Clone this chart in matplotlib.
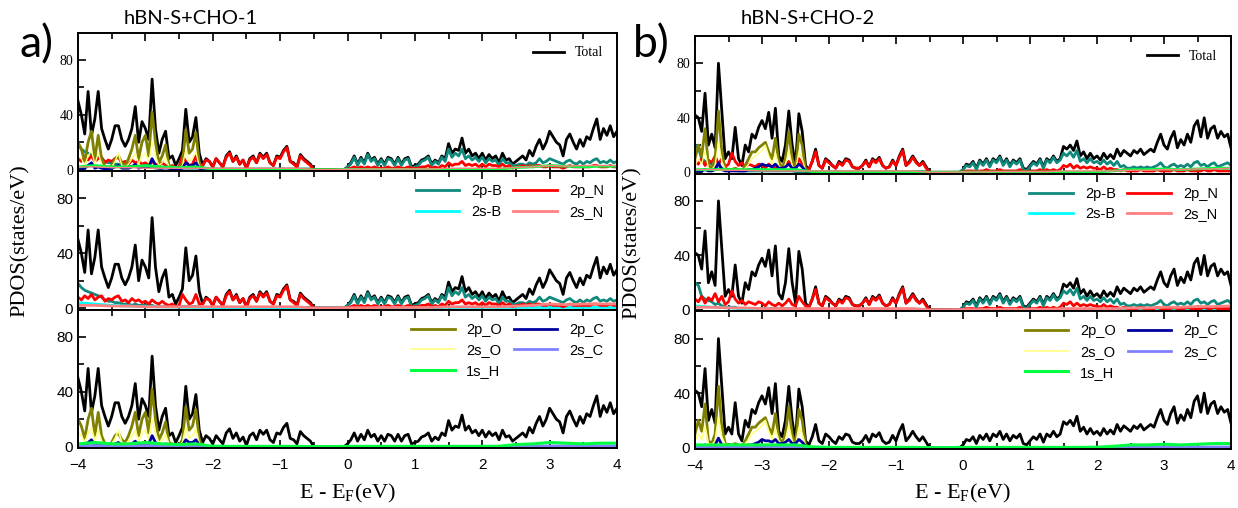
import numpy as np
import matplotlib
matplotlib.use("Agg")
import matplotlib.pyplot as plt
from matplotlib.ticker import MultipleLocator, FixedLocator

# --- energy grids (eV) ---
E_FINE = np.round(np.arange(-4.0, 4.0001, 0.05), 2)      # 161 points
E_O = np.round(np.arange(-4.0, -1.9999, 0.05), 2)        # 41 points, O/C states
E_COARSE = np.round(np.arange(-4.0, 4.0001, 0.25), 2)    # 33 points, weak states

# ---------------- panel a: hBN-S+CHO-1 ----------------
total_a = [50, 40, 26, 57, 25, 37, 57, 30, 22, 15,
           22, 32, 32, 22, 17, 22, 30, 46, 20, 35,
           30, 22, 66, 30, 12, 22, 28, 8, 10, 3,
           8, 14, 44, 20, 24, 38, 12, 3, 8, 6,
           2, 8, 5, 2, 10, 13, 6, 10, 4, 7,
           1, 8, 10, 5, 12, 9, 12, 5, 3, 10,
           9, 14, 17, 6, 5, 2, 11, 8, 6, 4,
           0, 0, 0, 0, 0, 0, 0, 0, 0, 0,
           2, 5, 10, 4, 9, 5, 12, 7, 9, 4,
           8, 4, 9, 8, 4, 9, 4, 8, 9, 2,
           3, 4, 7, 8, 10, 4, 7, 5, 10, 8,
           19, 12, 15, 14, 23, 12, 15, 10, 12, 8,
           12, 7, 11, 8, 10, 5, 12, 7, 8, 4,
           6, 8, 10, 7, 14, 10, 17, 22, 15, 20,
           28, 24, 20, 18, 10, 22, 26, 20, 15, 22,
           17, 24, 22, 30, 37, 22, 30, 25, 32, 24,
           28]

p2B_a = [18, 15, 13, 12, 11, 10, 9, 8, 6, 5,
         5, 4, 4, 3, 3, 3, 2, 3, 2, 2,
         2, 2, 2, 1, 1, 1, 1, 1, 1, 1,
         1, 1, 1, 1, 1, 1, 1, 0.5, 0.5, 0.5,
         0.5, 0.5, 0.5, 0.5, 0.5, 0.5, 0.5, 0.5, 0.5, 0.5,
         0.5, 0.5, 0.5, 0.5, 0.5, 0.5, 0.5, 0.5, 0.5, 0.5,
         0.5, 0.5, 0.5, 0.5, 0.5, 0.5, 0.5, 0.5, 0.5, 0.5,
         0, 0, 0, 0, 0, 0, 0, 0, 0, 0,
         2, 4, 9, 3, 8, 4, 11, 6, 8, 3,
         7, 3, 8, 7, 3, 8, 3, 7, 8, 1,
         2, 3, 6, 7, 9, 3, 6, 4, 9, 6,
         15, 9, 12, 10, 15, 8, 10, 7, 9, 6,
         9, 5, 8, 6, 7, 3, 8, 5, 5, 3,
         3, 4, 4, 3, 5, 4, 5, 8, 5, 6,
         8, 7, 6, 5, 4, 6, 7, 5, 4, 6,
         4, 6, 5, 7, 8, 5, 6, 5, 7, 5,
         6]

p2N_a = [8, 6, 9, 7, 10, 6, 8, 9, 5, 7,
         6, 8, 9, 5, 6, 4, 7, 5, 6, 4,
         5, 3, 6, 4, 3, 5, 3, 2, 3, 1,
         2, 10, 6, 3, 4, 10, 3, 3, 7, 6,
         2, 8, 5, 2, 9, 12, 6, 9, 4, 7,
         1, 7, 9, 5, 11, 8, 11, 5, 3, 9,
         8, 13, 16, 6, 4, 2, 10, 7, 5, 3,
         0, 0, 0, 0, 0, 0, 0, 0, 0, 0,
         0.5, 1, 2, 1, 2, 1, 2, 1, 2, 1,
         1, 1, 2, 1, 1, 2, 1, 1, 2, 1,
         1, 1, 2, 2, 3, 1, 2, 1, 3, 2,
         5, 3, 4, 4, 6, 3, 4, 3, 4, 2,
         4, 2, 4, 3, 3, 2, 4, 2, 3, 1,
         2, 2, 3, 2, 3, 2, 3, 3, 2, 2,
         3, 2, 2, 2, 1, 2, 3, 2, 2, 2,
         2, 2, 2, 3, 3, 2, 2, 2, 3, 2,
         2]

s2B_a = [4, 3, 2, 1.5, 1, 1, 0.8, 0.5, 0.3, 0.3, 0.3, 0.3, 0.3, 0.3, 0, 0,
         0.3, 0.3, 0.3, 0.3, 0.3, 0.3, 0.5, 0.5, 0.5, 0.5, 0.5, 0.5, 0.5, 0.5,
         0.5, 0.5, 0.5]
s2N_a = [2, 2, 1.5, 1.5, 1, 1, 1, 1, 1, 1, 1, 1, 1, 1, 0, 0,
         0.3, 0.3, 0.5, 0.5, 0.5, 0.5, 1, 1, 1, 1, 1.5, 2, 3, 2.5,
         3, 3, 3]

p2O_a = [20, 15, 6, 20, 28, 8, 25, 8, 2, 1,
         3, 8, 10, 5, 3, 8, 15, 25, 8, 20,
         25, 10, 42, 20, 5, 10, 18, 3, 2, 1,
         1, 5, 29, 12, 15, 27, 5, 0.5, 0, 0,
         0]
s2O_a = [10, 8, 3, 10, 14, 4, 12, 4, 1, 0.5,
         2, 6, 12, 3, 2, 4, 8, 12, 4, 10,
         12, 5, 20, 10, 3, 5, 9, 2, 1, 0.5,
         0.5, 3, 14, 6, 8, 13, 2, 0.3, 0, 0,
         0]
p2C_a = [1, 1, 1, 3, 5, 1, 2, 1, 0.5, 0.5,
         1, 2, 3, 1, 1, 1, 2, 4, 1, 2,
         3, 2, 8, 3, 1, 1, 2, 1, 0.5, 0.5,
         0.5, 1, 5, 3, 3, 5, 1, 0.3, 0, 0,
         0]
s2C_a = [0.8, 0.8, 0.6, 0.6, 0.8, 0.6, 0.5, 0.6, 0.2, 0.2, 0.2, 0.2, 0.2, 0.2, 0, 0,
         0.2, 0.2, 0.2, 0.2, 0.2, 0.2, 0.2, 0.2, 0.2, 0.2, 0.3, 0.3, 0.5, 0.5,
         0.5, 0.5, 0.5]
s1H_a = [2, 3, 2, 2, 3, 2, 1.5, 2, 0.3, 0.2, 0.2, 0.2, 0.2, 0.2, 0, 0,
         0.2, 0.2, 0.2, 0.2, 0.2, 0.2, 0.2, 0.2, 0.2, 0.3, 1.5, 2, 3, 2.5,
         2, 2.5, 2.5]

# ---------------- panel b: hBN-S+CHO-2 ----------------
total_b = [42, 40, 30, 58, 20, 28, 18, 80, 45, 10,
           15, 10, 33, 10, 5, 20, 15, 28, 25, 33,
           38, 32, 44, 25, 47, 12, 8, 20, 45, 20,
           5, 43, 30, 5, 2, 8, 17, 5, 3, 10,
           8, 5, 3, 8, 6, 10, 9, 4, 3, 3,
           5, 9, 4, 10, 8, 11, 5, 3, 4, 9,
           5, 12, 17, 5, 8, 12, 8, 5, 8, 4,
           0, 0, 0, 0, 0, 0, 0, 0, 0, 0,
           2, 6, 5, 8, 3, 9, 6, 10, 5, 10,
           8, 12, 6, 10, 5, 9, 7, 10, 3, 2,
           5, 8, 6, 10, 4, 10, 8, 12, 8, 10,
           19, 17, 20, 16, 23, 12, 15, 10, 14, 10,
           12, 9, 14, 10, 13, 10, 17, 12, 16, 14,
           12, 16, 14, 17, 13, 15, 17, 15, 22, 28,
           20, 17, 25, 30, 18, 24, 20, 28, 22, 34,
           38, 26, 40, 25, 32, 34, 25, 30, 26, 28,
           18]

p2B_b = [20, 18, 10, 8, 7, 6, 4, 5, 3, 2,
         2, 2, 2, 1, 1, 1, 1, 1, 1, 1,
         1, 1, 1, 1, 1, 1, 1, 1, 1, 1,
         0.5, 0.5, 0.5, 0.5, 0.5, 0.5, 0.5, 0.5, 0.5, 0.5,
         0.5, 0.5, 0.5, 0.5, 0.5, 0.5, 0.5, 0.5, 0.5, 0.5,
         0.5, 0.5, 0.5, 0.5, 0.5, 0.5, 0.5, 0.5, 0.5, 0.5,
         0.5, 0.5, 0.5, 0.5, 0.5, 0.5, 0.5, 0.5, 0.5, 0.5,
         0, 0, 0, 0, 0, 0, 0, 0, 0, 0,
         2, 5, 4, 7, 2, 8, 5, 9, 4, 9,
         7, 11, 5, 9, 4, 8, 6, 9, 2, 1,
         4, 7, 5, 9, 3, 9, 7, 11, 7, 9,
         14, 12, 15, 11, 16, 8, 10, 7, 10, 7,
         8, 6, 9, 6, 8, 5, 8, 4, 5, 3,
         3, 4, 3, 4, 3, 4, 3, 4, 5, 7,
         4, 3, 5, 6, 4, 5, 4, 6, 4, 7,
         8, 5, 6, 4, 6, 7, 4, 5, 6, 7,
         5]

p2N_b = [8, 6, 10, 5, 9, 7, 12, 6, 10, 4,
         6, 14, 8, 5, 7, 4, 6, 5, 4, 6,
         5, 3, 6, 4, 3, 5, 3, 5, 8, 4,
         3, 10, 6, 3, 2, 8, 15, 5, 3, 9,
         7, 5, 3, 7, 5, 9, 8, 4, 3, 3,
         5, 8, 4, 9, 7, 10, 5, 3, 4, 8,
         5, 11, 16, 5, 7, 11, 7, 5, 7, 3,
         0, 0, 0, 0, 0, 0, 0, 0, 0, 0,
         0.5, 1, 1, 1, 0.5, 1, 1, 2, 1, 1,
         1, 2, 1, 1, 1, 1, 1, 2, 0.5, 0.5,
         1, 1, 1, 2, 1, 2, 1, 2, 1, 2,
         5, 4, 6, 3, 5, 3, 4, 3, 4, 3,
         3, 2, 4, 2, 3, 2, 2, 1, 2, 1,
         1, 1, 1, 2, 1, 1, 1, 1, 2, 1,
         1, 1, 1, 2, 1, 1, 1, 2, 1, 1,
         1, 1, 2, 1, 1, 2, 1, 1, 1, 1,
         1]

s2B_b = [3, 2, 1.5, 1, 0.8, 0.8, 0.5, 0.5, 0.3, 0.3, 0.3, 0.3, 0.3, 0.3, 0, 0,
         0.3, 0.3, 0.3, 0.3, 0.3, 0.3, 0.5, 0.5, 0.5, 0.5, 0.5, 0.5, 0.5, 0.5,
         0.5, 0.5, 0.5]
s2N_b = [2, 2, 1.5, 1.5, 1, 1, 1, 1, 1, 1, 1, 1, 1, 1, 0, 0,
         0.3, 0.3, 0.5, 0.5, 0.5, 0.5, 1, 1, 1, 1, 1.5, 1.5, 2, 2,
         2.5, 2.5, 3]

p2O_b = [10, 20, 12, 32, 5, 3, 10, 45, 15, 3,
         2, 2, 3, 2, 1, 5, 10, 15, 15, 18,
         20, 22, 15, 10, 25, 8, 3, 10, 30, 10,
         2, 28, 20, 2, 0.5, 0, 0, 0, 0, 0,
         0]
s2O_b = [5, 10, 6, 16, 3, 2, 5, 22, 8, 2,
         1, 1, 2, 1, 0.5, 3, 6, 10, 12, 14,
         16, 20, 12, 6, 14, 5, 2, 6, 16, 5,
         1, 15, 10, 1, 0.3, 0, 0, 0, 0, 0,
         0]
p2C_b = [1, 1, 1, 2, 1, 1, 2, 7, 2, 1,
         1, 1, 1, 1, 1, 1, 2, 2, 3, 4,
         6, 5, 5, 4, 6, 3, 3, 4, 6, 3,
         3, 6, 4, 1, 0.5, 0, 0, 0, 0, 0,
         0]
s2C_b = [0.6, 0.6, 0.8, 0.5, 0.8, 0.8, 0.6, 0.4, 0.2, 0.2, 0.2, 0.2, 0.2, 0.2, 0, 0,
         0.2, 0.2, 0.2, 0.2, 0.2, 0.2, 0.2, 0.2, 0.2, 0.3, 0.3, 0.3, 0.5, 0.5,
         0.5, 0.5, 0.5]
s1H_b = [2, 2, 2, 2, 2, 2, 2, 0.5, 0.2, 0.2, 0.2, 0.2, 0.2, 0.2, 0, 0,
         0.2, 0.2, 0.2, 0.2, 0.2, 0.2, 0.2, 0.2, 0.3, 1, 2, 2, 2.5, 2,
         2.5, 3, 3]

# --- styles ---
COLORS = {
    "Total": "black", "2p-B": "#10897d", "2p_N": "#ff0000",
    "2s-B": "#00ffff", "2s_N": "#ff8080", "2p_O": "#808000",
    "2p_C": "#0000a0", "2s_O": "#ffff80", "2s_C": "#8080ff",
    "1s_H": "#00ff40",
}
SERIF = "Liberation Serif"
SANS = "Liberation Sans"
LW = 2.0


def style_axis(ax, serif_ticks=False, xlabels=False):
    ax.set_xlim(-4, 4)
    ax.set_ylim(-1, 100)
    ax.yaxis.set_major_locator(FixedLocator([0, 40, 80]))
    ax.yaxis.set_minor_locator(FixedLocator([20, 60]))
    ax.xaxis.set_major_locator(MultipleLocator(1))
    ax.xaxis.set_minor_locator(MultipleLocator(0.5))
    ax.tick_params(which="both", direction="in", top=True, width=1.2)
    ax.tick_params(which="major", length=6)
    ax.tick_params(which="minor", length=4)
    ax.tick_params(axis="x", pad=7)
    for sp in ax.spines.values():
        sp.set_linewidth(1.4)
    fam = SERIF if serif_ticks else SANS
    for lab in ax.get_yticklabels():
        lab.set_family(fam)
        lab.set_fontsize(10 if serif_ticks else 11)
    if xlabels:
        for lab in ax.get_xticklabels():
            lab.set_family(SANS)
            lab.set_fontsize(11)
    else:
        ax.set_xticklabels([])


def draw_panel(fig, left, width, top_px, bottom_px, d, letter, title, x_letter):
    H = 508.0
    h = (bottom_px - top_px) / 3.0 / H
    axes = []
    for i in range(3):
        b = 1 - (top_px / H) - (i + 1) * h
        axes.append(fig.add_axes([left, b, width, h]))
    top, mid, bot = axes
    tot = d["Total"]

    # top: everything
    top.plot(E_FINE, tot, color=COLORS["Total"], lw=LW, label="Total")
    top.plot(E_FINE, d["2p-B"], color=COLORS["2p-B"], lw=LW)
    top.plot(E_FINE, d["2p_N"], color=COLORS["2p_N"], lw=LW)
    top.plot(E_O, d["2p_O"], color=COLORS["2p_O"], lw=LW)
    top.plot(E_O, d["2s_O"], color=COLORS["2s_O"], lw=1.0)
    top.plot(E_O, d["2p_C"], color=COLORS["2p_C"], lw=LW)
    top.plot(E_COARSE, d["1s_H"], color=COLORS["1s_H"], lw=LW)
    top.plot(E_COARSE, d["2s_N"], color=COLORS["2s_N"], lw=1.0)
    top.legend(loc="upper right", frameon=False, handlelength=2.2,
               prop={"family": SERIF, "size": 10}, borderaxespad=0.6)

    # middle: B and N
    mid.plot(E_FINE, tot, color=COLORS["Total"], lw=LW)
    l1, = mid.plot(E_FINE, d["2p-B"], color=COLORS["2p-B"], lw=LW, label="2p-B")
    l2, = mid.plot(E_COARSE, d["2s-B"], color=COLORS["2s-B"], lw=LW, label="2s-B")
    l3, = mid.plot(E_FINE, d["2p_N"], color=COLORS["2p_N"], lw=LW, label="2p_N")
    l4, = mid.plot(E_COARSE, d["2s_N"], color=COLORS["2s_N"], lw=LW, label="2s_N")
    mid.legend(handles=[l1, l2, l3, l4], ncol=2, loc="upper right", frameon=False,
               handlelength=3.0, columnspacing=0.8, labelspacing=0.45,
               prop={"family": SANS, "size": 10.5}, borderaxespad=0.5)

    # bottom: O, C, H
    bot.plot(E_FINE, tot, color=COLORS["Total"], lw=LW)
    m1, = bot.plot(E_O, d["2p_O"], color=COLORS["2p_O"], lw=LW, label="2p_O")
    m2, = bot.plot(E_O, d["2s_O"], color=COLORS["2s_O"], lw=1.2, label="2s_O")
    m4, = bot.plot(E_O, d["2p_C"], color=COLORS["2p_C"], lw=LW, label="2p_C")
    m5, = bot.plot(E_COARSE, d["2s_C"], color=COLORS["2s_C"], lw=LW, label="2s_C")
    m3, = bot.plot(E_COARSE, d["1s_H"], color=COLORS["1s_H"], lw=2.2, label="1s_H")
    bot.legend(handles=[m1, m2, m3, m4, m5], ncol=2, loc="upper right", frameon=False,
               handlelength=3.0, columnspacing=0.8, labelspacing=0.45,
               prop={"family": SANS, "size": 10.5}, borderaxespad=0.5)

    style_axis(top, serif_ticks=True)
    style_axis(mid)
    style_axis(bot, xlabels=True)

    # labels
    ymid = 1 - (top_px + 1.5 * (bottom_px - top_px) / 3.0) / H
    fig.text(x_letter + 0.003, ymid, "PDOS(states/eV)", rotation=90, ha="center",
             va="center", family=SERIF, fontsize=16)
    fig.text(left + width / 2, 1 - 493 / H, r"E - E$_\mathregular{F}$(eV)",
             ha="center", va="center", family=SERIF, fontsize=16)
    fig.text(x_letter + 0.003, 1 - 45 / H, letter, ha="left", va="center",
             family="Lato", fontsize=32)
    fig.text(left + 0.037, 1 - 18 / H, title, ha="left", va="center",
             family="Lato", fontsize=14.5)


def main():
    fig = plt.figure(figsize=(12.38, 5.08), dpi=100)
    data_a = {"Total": total_a, "2p-B": p2B_a, "2p_N": p2N_a, "2s-B": s2B_a,
              "2s_N": s2N_a, "2p_O": p2O_a, "2s_O": s2O_a, "2p_C": p2C_a,
              "2s_C": s2C_a, "1s_H": s1H_a}
    data_b = {"Total": total_b, "2p-B": p2B_b, "2p_N": p2N_b, "2s-B": s2B_b,
              "2s_N": s2N_b, "2p_O": p2O_b, "2s_O": s2O_b, "2p_C": p2C_b,
              "2s_C": s2C_b, "1s_H": s1H_b}
    draw_panel(fig, 78 / 1238, 539 / 1238, 32.5, 448, data_a, "a)", "hBN-S+CHO-1", 0.013)
    draw_panel(fig, 695 / 1238, 536 / 1238, 36, 449, data_b, "b)", "hBN-S+CHO-2", 0.508)
    fig.savefig("out.png", dpi=100)
    plt.close(fig)


if __name__ == "__main__":
    main()
